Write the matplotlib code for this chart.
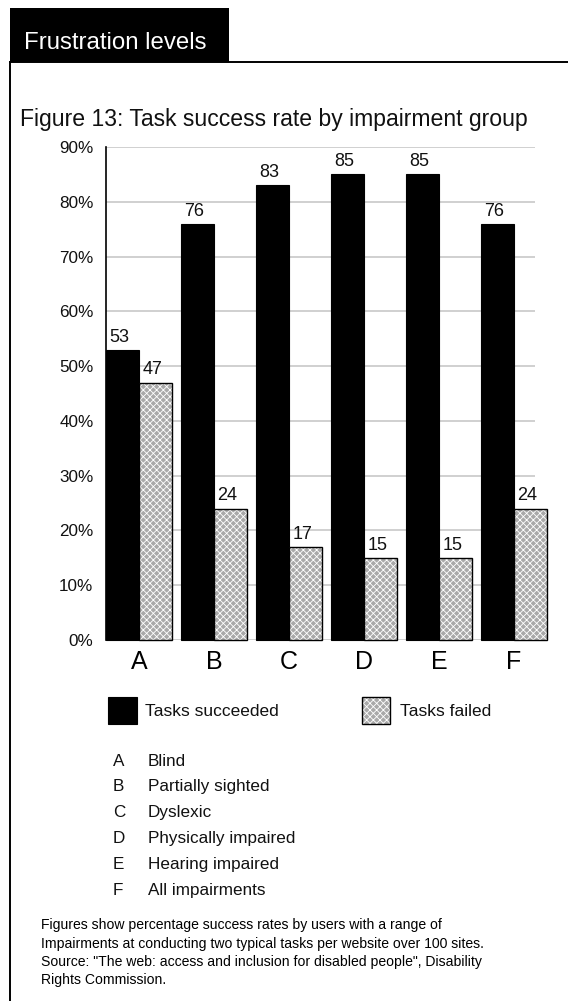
import matplotlib
matplotlib.use("Agg")
import matplotlib.pyplot as plt
from matplotlib.patches import Rectangle
from matplotlib.lines import Line2D
from matplotlib import font_manager

# ---- data -------------------------------------------------------------
groups = ["A", "B", "C", "D", "E", "F"]
group_names = ["Blind", "Partially sighted", "Dyslexic", "Physically impaired",
               "Hearing impaired", "All impairments"]
succeeded = [53, 76, 83, 85, 85, 76]
failed = [47, 24, 17, 15, 15, 24]
y_ticks = [0, 10, 20, 30, 40, 50, 60, 70, 80, 90]
y_tick_labels = [f"{v}%" for v in y_ticks]
series_names = ["Tasks succeeded", "Tasks failed"]

header = "Frustration levels"
subtitle = "Figure 13: Task success rate by impairment group"
footnote = [
    "Figures show percentage success rates by users with a range of",
    "Impairments at conducting two typical tasks per website over 100 sites.",
    "Source: \"The web: access and inclusion for disabled people\", Disability",
    "Rights Commission.",
]

# ---- styling ----------------------------------------------------------
plt.rcParams["font.family"] = ["Liberation Sans", "DejaVu Sans"]
plt.rcParams["hatch.linewidth"] = 0.6
W, H = 568, 1001
DPI = 100
HATCH_FACE = "#a9a9a9"
HATCH = "xxxxx"

installed = {f.name for f in font_manager.fontManager.ttflist}
if "Liberation Sans Narrow" in installed:
    foot_family, foot_size = ["Liberation Sans Narrow", "Liberation Sans"], 12.0
else:
    foot_family, foot_size = ["Liberation Sans", "DejaVu Sans"], 10.1

fig = plt.figure(figsize=(W / DPI, H / DPI), dpi=DPI)
fig.patch.set_facecolor("white")


def fx(x):
    return x / W


def fy(y):
    return 1 - y / H


# ---- panel header and frame ------------------------------------------
fig.add_artist(Rectangle((fx(10), fy(62)), fx(229) - fx(10), fy(8) - fy(62),
                         transform=fig.transFigure, facecolor="black",
                         edgecolor="none"))
fig.text(fx(24), fy(49), header, color="white", fontsize=17.3,
         ha="left", va="baseline")
fig.add_artist(Line2D([fx(9.5), fx(9.5)], [fy(62), fy(1001)],
                      transform=fig.transFigure, color="black", lw=1.4))
fig.add_artist(Line2D([fx(9.5), fx(568)], [fy(61.5), fy(61.5)],
                      transform=fig.transFigure, color="black", lw=1.4))

fig.text(fx(20), fy(126), subtitle, fontsize=16.6, color="#111111",
         ha="left", va="baseline")

# ---- bar chart --------------------------------------------------------
ax_left, ax_right, ax_top, ax_bot = 106, 548, 147, 640
ax = fig.add_axes([fx(ax_left), fy(ax_bot), fx(ax_right) - fx(ax_left),
                   fy(ax_top) - fy(ax_bot)])
pitch_px = 75.0
x_max = (ax_right - ax_left) / pitch_px
bar_w = 33 / pitch_px

ax.set_xlim(0, x_max)
ax.set_ylim(0, 90)

# light horizontal gridlines
grid_end = (535 - ax_left) / pitch_px
ax.hlines(y_ticks, 0, grid_end, colors="#c4c4c4", lw=1.1, zorder=0)

xs = list(range(len(groups)))
x_succ = [x for x in xs]
x_fail = [x + bar_w for x in xs]

ax.bar(x_succ, succeeded, width=bar_w, align="edge", color="black",
       edgecolor="black", lw=0.8, zorder=2, clip_on=False)
# hatched fill, then a black outline on top of it
ax.bar(x_fail, failed, width=bar_w, align="edge", color=HATCH_FACE,
       edgecolor="white", hatch=HATCH, lw=0, zorder=2, clip_on=False)
ax.bar(x_fail, failed, width=bar_w, align="edge", fill=False,
       edgecolor="black", lw=1.0, zorder=3, clip_on=False)

# value labels
for xa, v in zip(x_succ + x_fail, succeeded + failed):
    ax.annotate(str(v), (xa + bar_w / 2, v), xytext=(-2.2, 3.0),
                textcoords="offset points", ha="center", va="bottom",
                fontsize=13, color="#111111")

ax.set_yticks(y_ticks)
ax.set_yticklabels(y_tick_labels, fontsize=12.3, color="#111111")
ax.tick_params(axis="y", length=0, pad=9)
ax.set_xticks([x + bar_w for x in xs])
ax.set_xticklabels(groups, fontsize=18, color="black")
ax.tick_params(axis="x", length=0, pad=7)
for side in ("top", "right", "bottom"):
    ax.spines[side].set_visible(False)
ax.spines["left"].set_color("black")
ax.spines["left"].set_linewidth(1.2)
ax.set_facecolor("none")

# ---- legend ------------------------------------------------------------
fig.add_artist(Rectangle((fx(108), fy(724)), fx(137) - fx(108),
                         fy(697) - fy(724), transform=fig.transFigure,
                         facecolor="black", edgecolor="black", lw=0.8))
fig.text(fx(145), fy(711), series_names[0], fontsize=12.5, color="#111111",
         ha="left", va="center")
fig.add_artist(Rectangle((fx(362), fy(724)), fx(390) - fx(362),
                         fy(697) - fy(724), transform=fig.transFigure,
                         facecolor=HATCH_FACE, edgecolor="white", hatch=HATCH,
                         lw=0))
fig.add_artist(Rectangle((fx(362), fy(724)), fx(390) - fx(362),
                         fy(697) - fy(724), transform=fig.transFigure,
                         fill=False, edgecolor="black", lw=1.0))
fig.text(fx(400), fy(711), series_names[1], fontsize=12.5, color="#111111",
         ha="left", va="center")

# ---- group key ----------------------------------------------------------
row_base = 765.5
for i, (letter, name) in enumerate(zip(groups, group_names)):
    yb = row_base + 25.9 * i
    fig.text(fx(113), fy(yb), letter, fontsize=12.3, color="#111111",
             ha="left", va="baseline")
    fig.text(fx(148), fy(yb), name, fontsize=12.3, color="#111111",
             ha="left", va="baseline")

# ---- footnote -----------------------------------------------------------
for i, line in enumerate(footnote):
    fig.text(fx(41), fy(929.5 + 18.1 * i), line, fontsize=foot_size,
             family=foot_family, color="black", ha="left", va="baseline")

fig.savefig("out.png", dpi=DPI, facecolor="white")
